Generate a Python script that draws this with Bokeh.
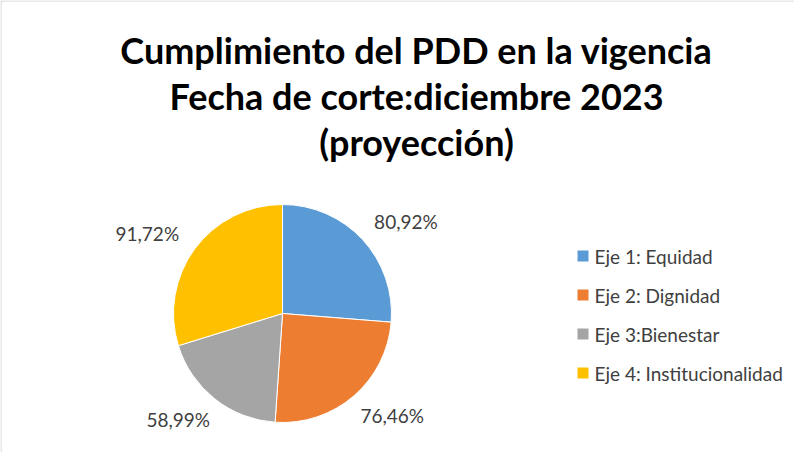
import math
from bokeh.plotting import figure
from bokeh.models import Range1d, ColumnDataSource
from bokeh.core.properties import value
from bokeh.embed import file_html
from bokeh.resources import INLINE

# ---- data ----
categories = ["Eje 1: Equidad", "Eje 2: Dignidad", "Eje 3:Bienestar", "Eje 4: Institucionalidad"]
values = [80.92, 76.46, 58.99, 91.72]
labels = ["80,92%", "76,46%", "58,99%", "91,72%"]
colors = ["#5B9BD5", "#ED7D31", "#A5A5A5", "#FFC000"]
title_lines = ["Cumplimiento del PDD en la vigencia",
               "Fecha de corte:diciembre 2023",
               "(proyección)"]

W, H = 794, 452
p = figure(width=W, height=H, output_backend="svg", toolbar_location=None,
           x_range=Range1d(0, W), y_range=Range1d(0, H), min_border=0)
p.axis.visible = False
p.grid.visible = False
p.outline_line_color = None
p.background_fill_color = "white"
p.border_fill_color = "white"

# border (left and top)
p.segment(x0=[0.5, 0], y0=[0, H - 0.5], x1=[0.5, W], y1=[H, H - 0.5],
          line_color="#cfcfcf", line_width=1)

# ---- pie ----
cx, cy, r = 282, 139, 109
total = sum(values)
starts, ends, mids = [], [], []
cum = 0.0
for v in values:
    a0 = math.pi / 2 - 2 * math.pi * cum / total
    cum += v
    a1 = math.pi / 2 - 2 * math.pi * cum / total
    starts.append(a0)
    ends.append(a1)
    mids.append((a0 + a1) / 2)

src = ColumnDataSource(dict(x=[cx] * 4, y=[cy] * 4, start=starts, end=ends, color=colors))
p.wedge(x="x", y="y", radius=r, start_angle="start", end_angle="end",
        direction="clock", fill_color="color", line_color="white", line_width=1,
        source=src)

rx, ry = 168, 135
lx = [cx + rx * math.cos(m) for m in mids]
ly = [cy + ry * math.sin(m) for m in mids]
p.text(x=lx, y=ly, text=labels, text_align="center", text_baseline="middle",
       text_font=value("Lato"), text_font_size="19px", text_color="#404040")

# ---- title ----
tx = 416
ty = [403 - 46 * i for i in range(len(title_lines))]
p.text(x=[tx] * len(title_lines), y=ty, text=title_lines, text_align="center",
       text_baseline="alphabetic", text_font=value("Lato"), text_font_size="36px",
       text_font_style="bold", text_color="#000000")

# ---- legend ----
leg_x = 577
leg_y = [460 - 263.5 - 39 * i for i in range(len(categories))]
p.rect(x=[leg_x + 5.5] * 4, y=leg_y, width=11, height=11, fill_color=colors, line_color=None)
p.text(x=[leg_x + 17] * 4, y=leg_y, text=categories, text_align="left",
       text_baseline="middle", text_font=value("Lato"), text_font_size="19px",
       text_color="#404040")

open("out.html", "w").write(file_html(p, INLINE))
